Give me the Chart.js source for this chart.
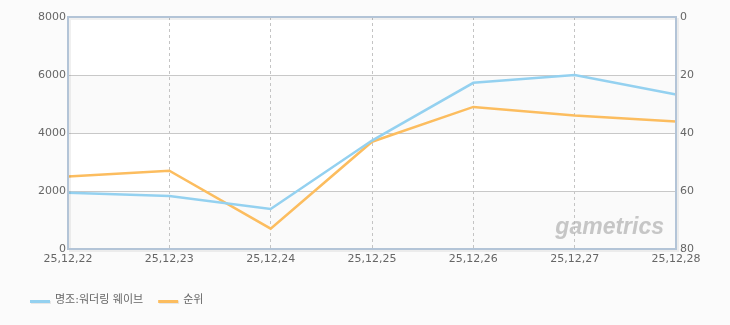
<!DOCTYPE html>
<html><head><meta charset="utf-8">
<script src="https://cdn.jsdelivr.net/npm/chart.js@4/dist/chart.umd.min.js"></script>
<style>html,body{margin:0;padding:0;background:#fbfbfb;}canvas{display:block;}</style>
</head><body>
<canvas id="c" width="730" height="325"></canvas>
<script>
const categories = ["25,12,22","25,12,23","25,12,24","25,12,25","25,12,26","25,12,27","25,12,28"];
const seriesNames = ["명조:워더링 웨이브", "순위"];
const usersValues = [1940, 1825, 1380, 3740, 5730, 6000, 5330];
const rankValues = [55, 53, 73, 43, 31, 34, 36];
const leftTicks = [0, 2000, 4000, 6000, 8000];
const rightTicks = [0, 20, 40, 60, 80];
const colors = ["#94d1f0", "#fcbd5f"];
const FONT = "'DejaVu Sans', 'Noto Sans CJK KR', sans-serif";

const bgPlugin = {
  id: 'bg',
  beforeDraw(chart) {
    const {ctx, chartArea: a, scales} = chart;
    ctx.save();
    ctx.fillStyle = '#fbfbfb';
    ctx.fillRect(0, 0, chart.width, chart.height);
    const y = scales.y;
    for (let i = 0; i < leftTicks.length - 1; i++) {
      const y0 = y.getPixelForValue(leftTicks[i]);
      const y1 = y.getPixelForValue(leftTicks[i + 1]);
      ctx.fillStyle = (i % 2 === 0) ? '#fafafa' : '#ffffff';
      ctx.fillRect(a.left, y1, a.right - a.left, y0 - y1);
    }
    ctx.restore();
  },
  beforeDatasetsDraw(chart) {
    const {ctx, chartArea: a} = chart;
    ctx.save();
    ctx.font = "italic bold 23px 'Liberation Sans', sans-serif";
    ctx.textAlign = 'right';
    ctx.textBaseline = 'alphabetic';
    ctx.fillStyle = 'rgba(175,175,175,0.7)';
    ctx.fillText('gametrics', a.right - 12, a.bottom - 15);
    ctx.restore();
  },
  afterDraw(chart) {
    const {ctx, chartArea: a} = chart;
    ctx.save();
    ctx.strokeStyle = 'rgba(0,0,0,0.06)';
    ctx.lineWidth = 2;
    ctx.strokeRect(a.left + 2, a.top + 2, a.right - a.left, a.bottom - a.top);
    ctx.strokeStyle = '#b3c4d7';
    ctx.lineWidth = 2;
    ctx.strokeRect(a.left, a.top, a.right - a.left, a.bottom - a.top);
    // legend
    ctx.font = "11px 'DejaVu Sans', 'Noto Sans CJK KR', sans-serif";
    ctx.textBaseline = 'middle';
    ctx.textAlign = 'left';
    let x = 30;
    const yy = 300;
    chart.data.datasets.forEach((ds) => {
      ctx.fillStyle = 'rgba(0,0,0,0.08)';
      ctx.fillRect(x + 1, yy + 1, 20, 3);
      ctx.fillStyle = ds.borderColor;
      ctx.fillRect(x, yy, 20, 3);
      ctx.fillStyle = '#666666';
      ctx.fillText(ds.label, x + 25, yy);
      x += 25 + ctx.measureText(ds.label).width + 15;
    });
    ctx.restore();
  }
};

new Chart(document.getElementById('c'), {
  type: 'line',
  data: {
    labels: categories,
    datasets: [
      {label: seriesNames[0], data: usersValues, yAxisID: 'y', borderColor: colors[0], backgroundColor: colors[0], borderWidth: 2.5, pointRadius: 0, tension: 0},
      {label: seriesNames[1], data: rankValues, yAxisID: 'y2', borderColor: colors[1], backgroundColor: colors[1], borderWidth: 2.5, pointRadius: 0, tension: 0}
    ]
  },
  options: {
    responsive: false,
    animation: false,
    devicePixelRatio: 1,
    layout: {padding: {top: 17, left: 0, right: 0, bottom: 56}},
    plugins: {legend: {display: false}, tooltip: {enabled: false}},
    scales: {
      x: {
        offset: false,
        grid: {color: '#c4c4c4', lineWidth: 1, drawTicks: false},
        border: {display: false, dash: [3, 3]},
        ticks: {color: '#666666', font: {family: FONT, size: 11}, padding: 4, maxRotation: 0, autoSkip: false},
        afterFit(s) { s.height = 20; }
      },
      y: {
        position: 'left',
        min: 0, max: 8000,
        afterBuildTicks(s) { s.ticks = leftTicks.map(v => ({value: v})); },
        grid: {color: '#c8c8c8', lineWidth: 1, drawTicks: false},
        border: {display: false},
        ticks: {color: '#666666', font: {family: FONT, size: 11}, padding: 2, callback: v => String(v)},
        afterFit(s) { s.width = 68; }
      },
      y2: {
        position: 'right',
        min: 0, max: 80, reverse: true,
        afterBuildTicks(s) { s.ticks = rightTicks.map(v => ({value: v})); },
        grid: {display: false, drawTicks: false},
        border: {display: false},
        ticks: {color: '#666666', font: {family: FONT, size: 11}, padding: 4, callback: v => String(v)},
        afterFit(s) { s.width = 54; }
      }
    }
  },
  plugins: [bgPlugin]
});
</script>
</body></html>
